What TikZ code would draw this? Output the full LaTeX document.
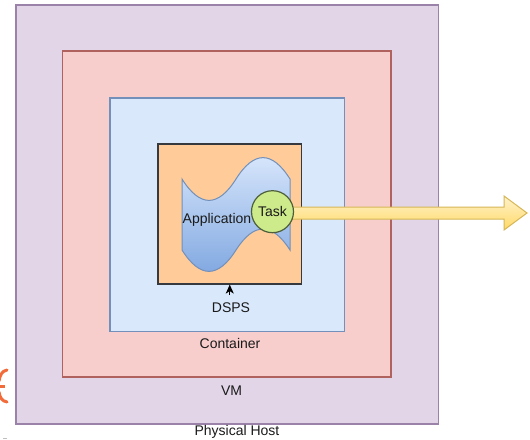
\documentclass[tikz,border=0pt]{standalone}
\usepackage{fontspec}
\setmainfont{Liberation Sans}
\usetikzlibrary{arrows.meta}
\definecolor{hostfill}{HTML}{E1D5E7}
\definecolor{hoststroke}{HTML}{9A82A8}
\definecolor{vmfill}{HTML}{F8CECC}
\definecolor{vmstroke}{HTML}{B0625E}
\definecolor{contfill}{HTML}{DAE8FC}
\definecolor{contstroke}{HTML}{7390BA}
\definecolor{dspsfill}{HTML}{FFCC99}
\definecolor{dspsstroke}{HTML}{36393D}
\definecolor{apptop}{HTML}{DAE8FC}
\definecolor{appbot}{HTML}{7EA6E0}
\definecolor{taskfill}{HTML}{CDEB8B}
\definecolor{taskstroke}{HTML}{4D5E3A}
\definecolor{arrtop}{HTML}{FFF2CC}
\definecolor{arrbot}{HTML}{FFD966}
\definecolor{arrstroke}{HTML}{D6B656}
\definecolor{txt}{HTML}{1A1A1A}
\definecolor{frag}{HTML}{F26B3A}
\begin{document}
\begin{tikzpicture}[x=1pt,y=-1pt,
  box/.style={draw, line width=1.2pt, inner sep=0pt, rectangle},
  lbl/.style={font=\fontsize{14}{16}\selectfont, text=txt, inner sep=0pt, anchor=base}]
\useasboundingbox (0,0) rectangle (530,439);
\fill[white] (0,0) rectangle (530,439);
% nested boxes
\node[box, draw=hoststroke, fill=hostfill, minimum width=422.5pt, minimum height=419pt] (host) at (227.25,214.5) {};
\node[box, draw=vmstroke, fill=vmfill, minimum width=328.5pt, minimum height=326pt] (vm) at (226.75,214) {};
\node[box, draw=contstroke, fill=contfill, minimum width=234.5pt, minimum height=233.5pt] (cont) at (227.25,214.75) {};
\node[box, draw=dspsstroke, fill=dspsfill, minimum width=143.5pt, minimum height=140pt] (dsps) at (229.75,214) {};
% application tape shape
\shade[top color=apptop, bottom color=appbot, draw=contstroke, line width=1pt]
  (182,179) .. controls (200,207.5) and (218,207.5) .. (236,179)
  .. controls (254,150.5) and (272,150.5) .. (290,179)
  -- (290,250)
  .. controls (272,222) and (254,222) .. (236,250)
  .. controls (218,278.5) and (200,278.5) .. (182,250) -- cycle;
\node[lbl, anchor=base west] (app) at (182.5,223.3) {Application};
% block arrow
\coordinate (tip) at (527,213);
\shade[top color=arrtop, bottom color=arrbot, draw=arrstroke, line width=1pt]
  (280,207) -- (504,207) -- (504,196) -- (tip) -- (504,230) -- (504,219) -- (280,219) -- cycle;
% task circle
\node[circle, draw=taskstroke, fill=taskfill, line width=1.2pt, minimum size=42pt, inner sep=0pt,
  font=\fontsize{14}{16}\selectfont, text=txt] (task) at (272.5,211.7) {Task};
% DSPS label and arrow
\node[lbl] (dspslbl) at (231,312.7) {DSPS};
\coordinate (dspsarr) at (229.75,295);
\draw[line width=1pt, -{Stealth[length=9pt,width=8pt,inset=2.5pt]}] (dspsarr) -- (dsps.south);
% other labels
\node[lbl] (contlbl) at (230,348.3) {Container};
\node[lbl] (vmlbl) at (231.5,395) {VM};
\node[lbl] (hostlbl) at (237,435.5) {Physical Host};
% cut-off fragments at the left edge
\draw[frag, line width=3pt, line cap=round] (7,370) .. controls (2,371) and (0,375) .. (-1,381);
\draw[frag, line width=3pt] (-1,386.5) -- (5,386.5);
\draw[frag, line width=3pt, line cap=round] (-1,392) .. controls (0,398) and (2,401) .. (7,402);
\draw[gray!50, line width=1pt] (3,438.3) -- (7,438.3);
\end{tikzpicture}
\end{document}
